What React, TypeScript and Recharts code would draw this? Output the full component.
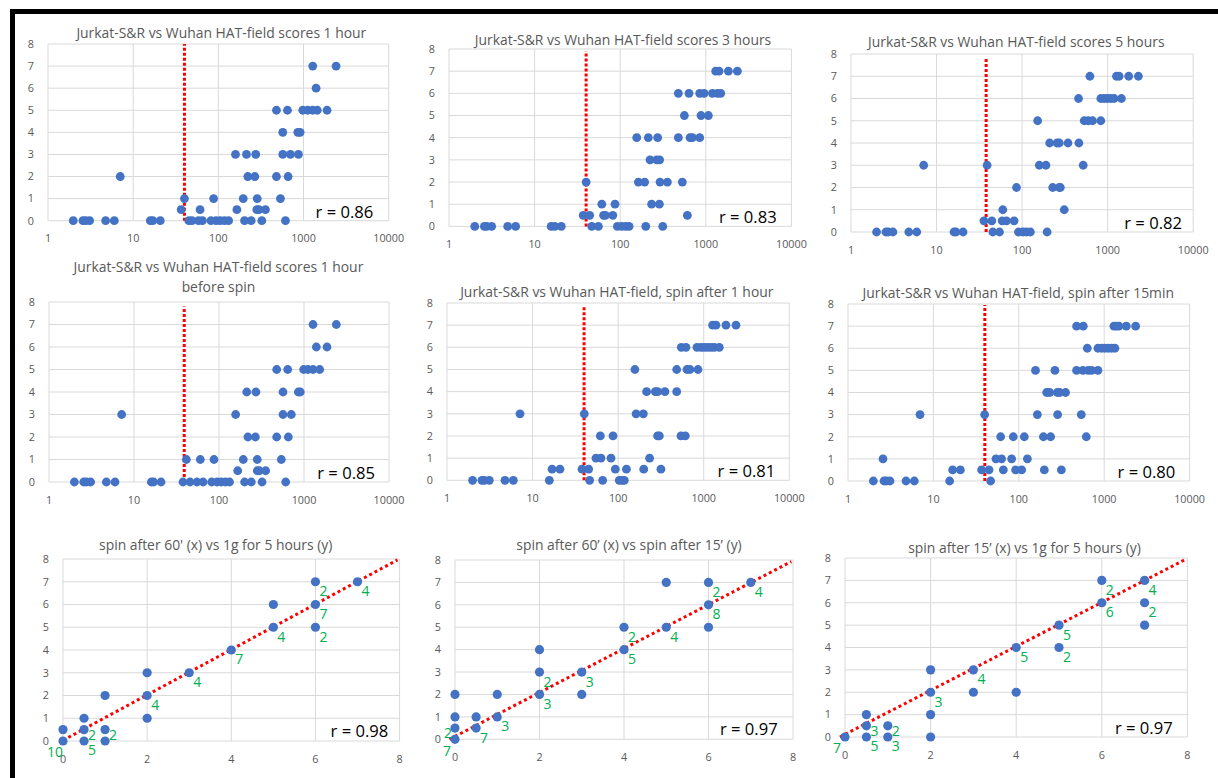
import React from 'react';
import { ScatterChart, Scatter, XAxis, YAxis, CartesianGrid, ReferenceLine } from 'recharts';

type Row = [number, number[]];

const LOG_TICKS = [1, 10, 100, 1000, 10000];
const SCORE_TICKS = [0, 1, 2, 3, 4, 5, 6, 7, 8];
const LIN_TICKS = [0, 2, 4, 6, 8];

// HAT-field score (y) with Jurkat-S&R values (x)
const hour1: Row[] = [
  [7, [1283, 2411]],
  [6, [1405]],
  [5, [481, 648, 980, 1120, 1280, 1450, 1890]],
  [4, [571, 857, 912]],
  [3, [159, 214, 275, 571, 702, 872]],
  [2, [7.05, 222, 268, 481, 659]],
  [1, [40, 88, 196, 286, 536]],
  [0.5, [36.6, 61, 165, 283, 299, 357]],
  [0, [1.98, 2.57, 2.77, 3.08, 4.75, 6.0, 15.9, 17, 20.8, 45, 49, 58.5, 65, 82, 94, 105, 118, 132, 203, 243, 324, 614]],
];

const hour3: Row[] = [
  [7, [1306, 1429, 1836, 2339]],
  [6, [478, 637, 849, 954, 1194, 1365, 1494]],
  [5, [562, 880, 1072]],
  [4, [156, 213, 274, 478, 655, 697, 849]],
  [3, [223, 267, 289]],
  [2, [40, 163, 193, 292, 356, 532]],
  [1, [61, 87, 233, 287]],
  [0.5, [37, 44, 64, 67, 82, 609]],
  [0, [2.0, 2.59, 2.75, 3.15, 4.85, 6.0, 15.6, 17.2, 20.5, 46.5, 55.6, 92.7, 104, 116, 127, 199, 314]],
];

const hour5: Row[] = [
  [7, [620, 1268, 1362, 1764, 2287]],
  [6, [457, 832, 910, 995, 1088, 1191, 1449]],
  [5, [152, 532, 593, 666, 832]],
  [4, [210, 256, 272, 344, 461]],
  [3, [7.08, 39, 159, 190, 518]],
  [2, [86, 228, 272, 280]],
  [1, [59.5, 311]],
  [0.5, [35.8, 44.3, 58.5, 65.7, 80.7]],
  [0, [1.99, 2.56, 2.72, 3.09, 4.74, 5.87, 16, 16.9, 20.4, 45.5, 54.4, 90.7, 102, 112, 125, 196]],
];

const beforeSpin: Row[] = [
  [7, [1276, 2400]],
  [6, [1397, 1865]],
  [5, [477, 643, 991, 1114, 1276, 1529]],
  [4, [212, 272, 566, 858, 905]],
  [3, [7.16, 157, 566, 709]],
  [2, [219, 268, 477, 654]],
  [1, [41.3, 60.3, 87.3, 193, 282, 541]],
  [0.5, [166, 282, 298, 354]],
  [0, [1.99, 2.56, 2.75, 3.09, 4.73, 5.98, 16, 17, 20.8, 37.7, 45.6, 55.1, 64.9, 82, 94.7, 106, 119, 133, 200, 240, 321, 609]],
];

const spin1h: Row[] = [
  [7, [1271, 1390, 1820, 2382]],
  [6, [547, 620, 834, 929, 1016, 1111, 1216, 1330, 1521]],
  [5, [157, 483, 637, 691, 857]],
  [4, [215, 272, 289, 352, 483]],
  [3, [7.13, 40.2, 162, 197]],
  [2, [61.9, 87.1, 289, 303, 542, 609]],
  [1, [55.1, 63, 82.5, 233]],
  [0.5, [16.9, 20.9, 37.8, 45.2, 92.7, 125, 199, 316]],
  [0, [1.99, 2.56, 2.73, 3.12, 4.76, 5.96, 15.7, 46.4, 65.9, 103, 111, 118]],
];

const spin15: Row[] = [
  [7, [475, 569, 1301, 1385, 1488, 1814, 2333]],
  [6, [634, 845, 933, 1020, 1117, 1222, 1336]],
  [5, [157, 265, 475, 564, 651, 713, 845]],
  [4, [212, 230, 282, 301, 353]],
  [3, [6.97, 39.8, 165, 285, 539]],
  [2, [61.3, 86.2, 116, 194, 236, 617]],
  [1, [2.57, 54, 62.9, 82.4, 126]],
  [0.5, [16.8, 20.7, 36.7, 44.8, 65.9, 91.8, 108, 199, 315]],
  [0, [1.98, 2.64, 2.81, 3.1, 4.78, 5.98, 15.5, 46.8]],
];

const logTitles = [
  ['Jurkat-S&R vs Wuhan HAT-field scores 1 hour'],
  ['Jurkat-S&R vs Wuhan HAT-field scores 3 hours'],
  ['Jurkat-S&R vs Wuhan HAT-field scores 5 hours'],
  ['Jurkat-S&R vs Wuhan HAT-field scores 1 hour', 'before spin'],
  ['Jurkat-S&R vs Wuhan HAT-field, spin after 1 hour'],
  ['Jurkat-S&R vs Wuhan HAT-field, spin after 15min'],
];
const logR = ['0.86', '0.83', '0.82', '0.85', '0.81', '0.80'];
const cutoffX = [40, 40, 38, 39, 40, 40];
const cutoffTop = [8, 7.9, 7.8, 7.8, 7.9, 7.95];

// Score comparisons: points, counts of coincident points, trend line ends
const pts60v5h: [number, number][] = [
  [0, 0], [0, 0.5], [0.5, 0], [0.5, 0.5], [0.5, 1], [1, 0], [1, 0.5], [1, 2], [2, 1], [2, 2], [2, 3],
  [3, 3], [4, 4], [5, 5], [5, 6], [6, 5], [6, 6], [6, 7], [7, 7],
];
const counts60v5h: [number, number, string][] = [
  [0, 0, '10'], [0.5, 0, '5'], [0.5, 0.5, '2'], [1, 0.5, '2'], [2, 2, '4'], [3, 3, '4'], [4, 4, '7'],
  [5, 5, '4'], [6, 5, '2'], [6, 6, '7'], [6, 7, '2'], [7, 7, '4'],
];
const trend60v5h: [number, number][] = [[0, 0.03], [7.95, 7.96]];

const pts60v15: [number, number][] = [
  [0, 0], [0, 0.5], [0, 1], [0, 2], [0.5, 0.5], [0.5, 1], [1, 1], [1, 2], [2, 2], [2, 3], [2, 4],
  [3, 2], [3, 3], [4, 4], [4, 5], [5, 5], [5, 7], [6, 5], [6, 6], [6, 7], [7, 7],
];
const counts60v15: [number, number, string][] = [
  [0, 0, '7'], [0, 0.5, '2'], [0.5, 0.5, '7'], [1, 1, '3'], [2, 2, '3'], [2, 3, '2'], [3, 3, '3'],
  [4, 4, '5'], [4, 5, '2'], [5, 5, '4'], [6, 6, '8'], [6, 7, '2'], [7, 7, '4'],
];
const trend60v15: [number, number][] = [[-0.13, 0], [7.96, 7.93]];

const pts15v5h: [number, number][] = [
  [0, 0], [0.5, 0], [0.5, 0.5], [0.5, 1], [1, 0], [1, 0.5], [2, 0], [2, 1], [2, 2], [2, 3], [3, 2],
  [3, 3], [4, 2], [4, 4], [5, 4], [5, 5], [6, 6], [6, 7], [7, 5], [7, 6], [7, 7],
];
const counts15v5h: [number, number, string][] = [
  [0, 0, '7'], [0.5, 0, '5'], [0.5, 0.5, '3'], [1, 0, '3'], [1, 0.5, '2'], [2, 2, '3'], [3, 3, '4'],
  [4, 4, '5'], [5, 4, '2'], [5, 5, '5'], [6, 6, '6'], [6, 7, '2'], [7, 6, '2'], [7, 7, '4'],
];
const trend15v5h: [number, number][] = [[-0.12, 0], [7.98, 7.96]];

const linTitles = [
  "spin after 60' (x) vs 1g for 5 hours (y)",
  'spin after 60\u2019 (x) vs spin after 15\u2019 (y)',
  'spin after 15\u2019 (x) vs 1g for 5 hours (y)',
];
const linR = ['0.98', '0.97', '0.97'];

// ---------- layout / style ----------
const FONT = "'Open Sans', sans-serif";
const BLUE = '#4472C4';
const RED = '#FF0000';
const GREEN = '#00B050';
const GRID = '#D9D9D9';
const TXT = '#595959';

type Box = { l: number; t: number; r: number; b: number };
const logBoxes: Box[] = [
  { l: 48.3, t: 44.3, r: 389, b: 221 },
  { l: 449.3, t: 49.3, r: 791.7, b: 226.7 },
  { l: 851.3, t: 53.7, r: 1193.5, b: 231.7 },
  { l: 49.3, t: 302.3, r: 389.3, b: 482.3 },
  { l: 447, t: 302.7, r: 789.3, b: 480 },
  { l: 847.7, t: 304, r: 1189.3, b: 481 },
];
const linBoxes: Box[] = [
  { l: 62.7, t: 559, r: 399.3, b: 741 },
  { l: 454.7, t: 560, r: 792.7, b: 739.3 },
  { l: 845.3, t: 558.3, r: 1187.7, b: 737.3 },
];
const logTitlePos = [
  { cx: 221.3, cy: [33] },
  { cx: 623, cy: [40] },
  { cx: 1016.3, cy: [41.7] },
  { cx: 218.4, cy: [266.7, 287.3] },
  { cx: 616.8, cy: [292.3] },
  { cx: 1018.3, cy: [293.3] },
];
const linTitlePos = [
  { cx: 215.7, cy: 545 },
  { cx: 629, cy: 545 },
  { cx: 1024.5, cy: 548.3 },
];
const logRPos = [
  { right: 373.3, cy: 212 },
  { right: 776.7, cy: 216.7 },
  { right: 1182, cy: 223.3 },
  { right: 375, cy: 472.7 },
  { right: 775.3, cy: 470.7 },
  { right: 1175.3, cy: 471.7 },
];
const linRPos = [
  { right: 388.3, cy: 730.7 },
  { right: 777.7, cy: 729.3 },
  { right: 1172.7, cy: 728.3 },
];
const labelSides: Record<string, string>[] = [
  { '0,0': 'bl', '0.5,0.5': 'r', '1,0.5': 'r' },
  { '0,0': 'bl', '0,0.5': 'l' },
  { '0,0': 'bl', '0.5,0.5': 'r', '1,0.5': 'r' },
];
const OFFSETS: Record<string, [number, number]> = {
  br: [8, 9],
  bl: [-8, 11],
  r: [8, 5],
  l: [-7, 4],
};

const PAD_L = 45;
const PAD_T = 10;
const PAD_R = 25;
const PAD_B = 30;
const TITLE_SIZE = 13.9;

const tickStyle = { fill: TXT, fontSize: 10.8, fontFamily: FONT };

const dotShape = (rad: number) => (p: any) => <circle cx={p.cx} cy={p.cy} r={rad} fill={BLUE} />;

function rowsToPoints(rows: Row[]) {
  const out: { x: number; y: number }[] = [];
  rows.forEach(([y, xs]) => xs.forEach((x) => out.push({ x, y })));
  return out;
}

function Frame({ box, children }: { box: Box; children: (w: number, h: number) => React.ReactNode }) {
  const w = box.r - box.l + PAD_L + PAD_R;
  const h = box.b - box.t + PAD_T + PAD_B;
  return (
    <div style={{ position: 'absolute', left: box.l - PAD_L, top: box.t - PAD_T }}>{children(w, h)}</div>
  );
}

function LogPanel({ i }: { i: number }) {
  const box = logBoxes[i];
  const data = rowsToPoints([hour1, hour3, hour5, beforeSpin, spin1h, spin15][i]);
  return (
    <Frame box={box}>
      {(w, h) => (
        <ScatterChart width={w} height={h} margin={{ top: PAD_T, right: PAD_R, bottom: 0, left: 0 }}>
          <CartesianGrid stroke={GRID} strokeWidth={1} />
          <XAxis
            type="number"
            dataKey="x"
            scale="log"
            domain={[1, 10000]}
            ticks={LOG_TICKS}
            allowDataOverflow
            height={PAD_B}
            axisLine={false}
            tickLine={false}
            tickSize={0}
            tickMargin={14}
            tick={tickStyle}
            interval={0}
          />
          <YAxis
            type="number"
            dataKey="y"
            domain={[0, 8]}
            ticks={SCORE_TICKS}
            width={PAD_L}
            axisLine={false}
            tickLine={false}
            tickSize={0}
            tickMargin={14}
            tick={tickStyle}
            interval={0}
          />
          <Scatter data={data} isAnimationActive={false} shape={dotShape(4.4)} />
          <ReferenceLine
            segment={[
              { x: cutoffX[i], y: 0 },
              { x: cutoffX[i], y: cutoffTop[i] },
            ]}
            stroke={RED}
            strokeWidth={3}
            strokeDasharray="3 2"
            ifOverflow="visible"
          />
        </ScatterChart>
      )}
    </Frame>
  );
}

function LinPanel({ i }: { i: number }) {
  const box = linBoxes[i];
  const pts = [pts60v5h, pts60v15, pts15v5h][i].map(([x, y]) => ({ x, y }));
  const counts = [counts60v5h, counts60v15, counts15v5h][i].map(([x, y, n]) => ({ x, y, n }));
  const trend = [trend60v5h, trend60v15, trend15v5h][i];
  const sides = labelSides[i];
  const labelShape = (p: any) => {
    const side = sides[`${p.payload.x},${p.payload.y}`] || 'br';
    const o = OFFSETS[side];
    return (
      <text
        x={p.cx + o[0]}
        y={p.cy + o[1]}
        textAnchor="middle"
        dominantBaseline="central"
        fill={GREEN}
        fontSize={14}
        fontFamily={FONT}
      >
        {p.payload.n}
      </text>
    );
  };
  return (
    <Frame box={box}>
      {(w, h) => (
        <ScatterChart width={w} height={h} margin={{ top: PAD_T, right: PAD_R, bottom: 0, left: 0 }}>
          <CartesianGrid stroke={GRID} strokeWidth={1} />
          <XAxis
            type="number"
            dataKey="x"
            domain={[0, 8]}
            ticks={LIN_TICKS}
            height={PAD_B}
            axisLine={false}
            tickLine={false}
            tickSize={0}
            tickMargin={14}
            tick={tickStyle}
            interval={0}
          />
          <YAxis
            type="number"
            dataKey="y"
            domain={[0, 8]}
            ticks={SCORE_TICKS}
            width={PAD_L}
            axisLine={false}
            tickLine={false}
            tickSize={0}
            tickMargin={14}
            tick={tickStyle}
            interval={0}
          />
          <Scatter data={pts} isAnimationActive={false} shape={dotShape(4.6)} />
          <ReferenceLine
            segment={[
              { x: trend[0][0], y: trend[0][1] },
              { x: trend[1][0], y: trend[1][1] },
            ]}
            stroke={RED}
            strokeWidth={3}
            strokeDasharray="3 3"
            ifOverflow="visible"
          />
          <Scatter data={counts} isAnimationActive={false} shape={labelShape} />
        </ScatterChart>
      )}
    </Frame>
  );
}

function TextAt({ cx, cy, size, color, children }: any) {
  return (
    <div
      style={{
        position: 'absolute',
        left: cx - 250,
        top: cy - 12,
        width: 500,
        height: 24,
        lineHeight: '24px',
        textAlign: 'center',
        fontFamily: FONT,
        fontSize: size,
        color,
        whiteSpace: 'nowrap',
      }}
    >
      {children}
    </div>
  );
}

function RText({ right, cy, children }: any) {
  return (
    <div
      style={{
        position: 'absolute',
        left: right - 200,
        top: cy - 13,
        width: 200,
        height: 26,
        lineHeight: '26px',
        textAlign: 'right',
        fontFamily: FONT,
        fontSize: 16.6,
        color: '#000',
        whiteSpace: 'nowrap',
      }}
    >
      {children}
    </div>
  );
}

export default function App() {
  return (
    <div
      style={{
        position: 'absolute',
        left: 0,
        top: 0,
        width: 1218,
        height: 778,
        background: '#fff',
        overflow: 'hidden',
      }}
    >
      {logBoxes.map((_, i) => (
        <LogPanel key={'l' + i} i={i} />
      ))}
      {linBoxes.map((_, i) => (
        <LinPanel key={'n' + i} i={i} />
      ))}
      {logTitles.map((lines, i) =>
        lines.map((t, k) => (
          <TextAt key={'t' + i + k} cx={logTitlePos[i].cx} cy={logTitlePos[i].cy[k]} size={TITLE_SIZE} color={TXT}>
            {t}
          </TextAt>
        ))
      )}
      {linTitles.map((t, i) => (
        <TextAt key={'lt' + i} cx={linTitlePos[i].cx} cy={linTitlePos[i].cy} size={TITLE_SIZE} color={TXT}>
          {t}
        </TextAt>
      ))}
      {logR.map((r, i) => (
        <RText key={'r' + i} right={logRPos[i].right} cy={logRPos[i].cy}>
          r = {r}
        </RText>
      ))}
      {linR.map((r, i) => (
        <RText key={'lr' + i} right={linRPos[i].right} cy={linRPos[i].cy}>
          r = {r}
        </RText>
      ))}
      <div style={{ position: 'absolute', left: 10, top: 9, width: 5, height: 769, background: '#000' }} />
      <div style={{ position: 'absolute', left: 10, top: 9, width: 1208, height: 5, background: '#000' }} />
    </div>
  );
}
